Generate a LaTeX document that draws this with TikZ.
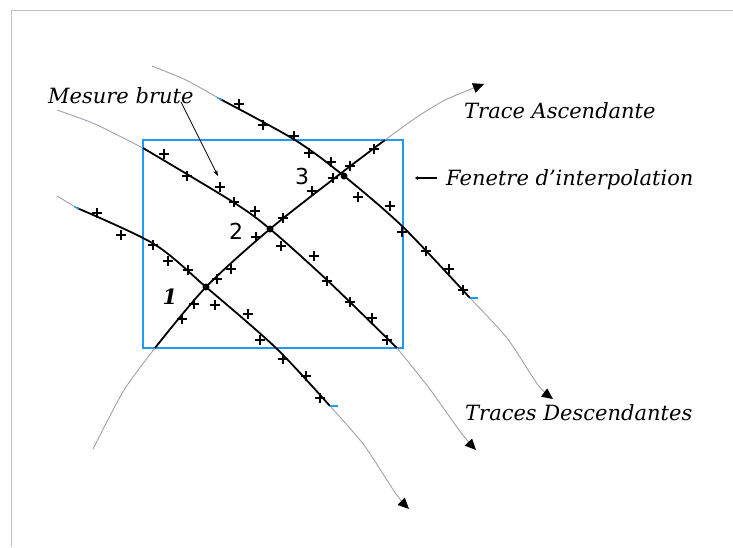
\documentclass[tikz,border=0pt]{standalone}
\usepackage{fontspec}
\setmainfont{DejaVu Serif}
\newfontfamily\numsans{DejaVu Sans}
\usetikzlibrary{arrows.meta}
\definecolor{winblue}{RGB}{30,155,240}
\definecolor{trgrey}{RGB}{160,160,175}
\definecolor{framegrey}{RGB}{192,192,192}
\begin{document}
\begin{tikzpicture}[x=1pt,y=-1pt,
  blk/.style={line width=1.8pt, black, line join=round},
  gry/.style={line width=0.9pt, trgrey},
  tipend/.style={-{Triangle[length=11pt,width=10pt,fill=black,color=black]}},
  plusmark/.style={line width=1.3pt, black},
  bluetick/.style={line width=1.3pt, winblue},
  lab/.style={font=\fontsize{21}{21}\selectfont\itshape, inner sep=0pt, anchor=west},
  num/.style={font=\fontsize{22}{22}\selectfont\numsans, inner sep=0pt},
  dotmark/.style={circle, fill=black, inner sep=0pt, minimum size=7pt}]
\useasboundingbox (0,0) rectangle (733,547);
% outer frame
\draw[framegrey, line width=1pt] (11,547) -- (11,10.5) -- (733,10.5);
% interpolation window
\draw[winblue, line width=1.6pt] (143,140) rectangle (403,348);
% intersection points
\node[dotmark] (i1) at (206,287) {};
\node[dotmark] (i2) at (270,229) {};
\node[dotmark] (i3) at (344,176) {};
% descending trace 1
\draw[gry] (57,196) -- (77,208);
\draw[blk] plot[smooth, tension=0.5] coordinates {(77,208) (154,244) (206,287) (276,348) (330,406)};
\draw[gry,tipend] plot[smooth, tension=0.4] coordinates {(330,406) (364,445) (396,494) (409,509)};
% descending trace 2
\draw[gry] plot[smooth, tension=0.4] coordinates {(57,110) (95,124) (143,148)};
\draw[blk] plot[smooth, tension=0.5] coordinates {(143,148) (233,202) (270,229) (327,280) (397,348)};
\draw[gry,tipend] plot[smooth, tension=0.4] coordinates {(397,348) (429,388) (462,434) (476,450)};
% descending trace 3
\draw[gry] plot[smooth, tension=0.4] coordinates {(152,66) (186,80) (220,99)};
\draw[blk] plot[smooth, tension=0.5] coordinates {(220,99) (295,140) (344,176) (403,227) (470,298)};
\draw[gry,tipend] plot[smooth, tension=0.4] coordinates {(470,298) (507,338) (538,385) (553,399)};
% ascending trace
\draw[gry] plot[smooth, tension=0.4] coordinates {(93,449) (124,390) (155,348)};
\draw[blk] plot[smooth, tension=0.5] coordinates {(155,348) (206,287) (270,229) (340,174) (385,140)};
\draw[gry,tipend] plot[smooth, tension=0.4] coordinates {(385,140) (414,119) (445,100) (484,84)};
% blue ticks at ends of black segments
\draw[bluetick] (74,206.5) -- (79,209);
\draw[bluetick] (217,97.5) -- (222,100);
\draw[bluetick] (330,406) -- (338,406);
\draw[bluetick] (470,298) -- (478,298);
% raw measurements
\foreach \p in {
  {(97,213)},{(121,235)},{(153,245)},{(168,261)},{(188,270)},{(215,305)},{(248,314)},{(260,340)},{(283,359)},{(306,376)},{(320,398)},
  {(164,154)},{(187,176)},{(220,187)},{(234,202)},{(255,211)},{(281,246)},{(314,256)},{(327,281)},{(350,302)},{(372,318)},{(387,340)},
  {(239,104)},{(263,125)},{(294,136)},{(309,153)},{(331,162)},{(358,197)},{(390,206)},{(402,232)},{(426,251)},{(449,269)},{(463,290)},
  {(182,319)},{(194,304)},{(217,279)},{(231,269)},{(256,237)},{(283,218)},{(312,191)},{(333,178)},{(350,166)},{(374,149)}}
  \draw[plusmark] \p +(-5,0) -- +(5,0) \p +(0,-5) -- +(0,5);
% numbers
\node[num, font=\fontsize{21}{21}\selectfont\bfseries\itshape] (n1) at (170,297) {1};
\node[num] (n2) at (236,231) {2};
\node[num] (n3) at (302,176) {3};
% labels
\node[lab] (mes) at (48,96) {Mesure brute};
\coordinate (mesfrom) at (181,102);
\coordinate (mesto) at (218,176);
\draw[line width=0.7pt, -{Stealth[length=6pt,width=4pt]}] (mesfrom) -- (mesto);
\node[lab] (asc) at (464,111) {Trace Ascendante};
\node[lab] (fen) at (446,180) {Fenetre d'interpolation};
\coordinate (fenfrom) at (437,178);
\coordinate (fenarr) at (415,178);
\draw[line width=1.1pt, -{Stealth[length=3pt,width=4pt]}] (fenfrom) -- (fenarr);
\node[lab] (desc) at (465,413) {Traces Descendantes};
\end{tikzpicture}
\end{document}
